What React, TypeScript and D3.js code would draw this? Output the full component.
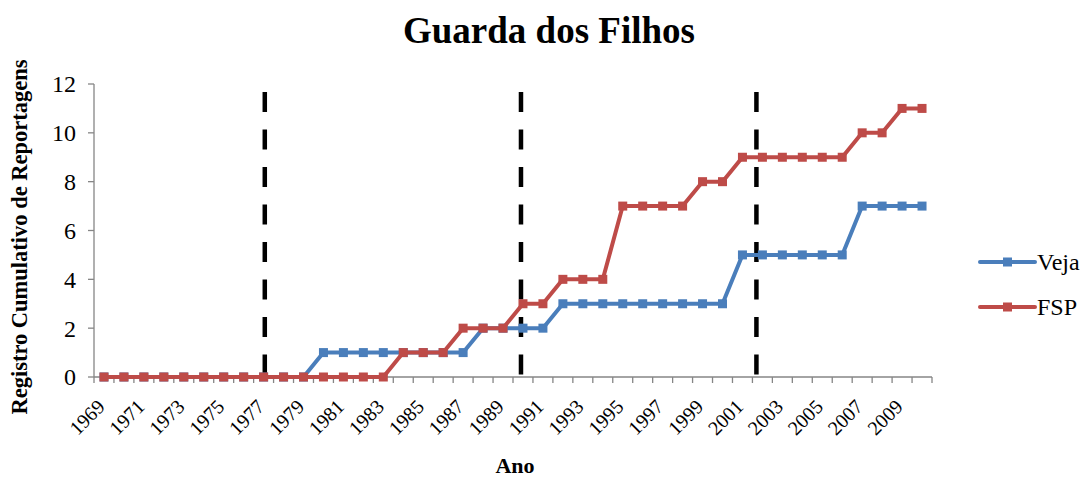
import React, { useEffect, useRef } from "react";
import * as d3 from "d3";

// anos 1969..2010
const anos: number[] = d3.range(1969, 2011);
const veja: number[] = [
  0, 0, 0, 0, 0, 0, 0, 0, 0, 0, 0, // 1969-1979
  1, 1, 1, 1, 1, 1, 1, 1, // 1980-1987
  2, 2, 2, 2, // 1988-1991
  3, 3, 3, 3, 3, 3, 3, 3, 3, // 1992-2000
  5, 5, 5, 5, 5, 5, // 2001-2006
  7, 7, 7, 7 // 2007-2010
];
const fsp: number[] = [
  0, 0, 0, 0, 0, 0, 0, 0, 0, 0, 0, 0, 0, 0, 0, // 1969-1983
  1, 1, 1, // 1984-1986
  2, 2, 2, // 1987-1989
  3, 3, // 1990-1991
  4, 4, 4, // 1992-1994
  7, 7, 7, 7, // 1995-1998
  8, 8, // 1999-2000
  9, 9, 9, 9, 9, 9, // 2001-2006
  10, 10, // 2007-2008
  11, 11 // 2009-2010
];
const yTicks: number[] = [0, 2, 4, 6, 8, 10, 12];
// posição aproximada das linhas tracejadas (em anos)
const marcos: number[] = [1977.06, 1989.9, 2001.7];

const series = [
  { name: "Veja", values: veja, color: "#4A7EBB" },
  { name: "FSP", values: fsp, color: "#BE4B48" }
];

const App = () => {
  const ref = useRef<SVGSVGElement>(null);

  useEffect(() => {
    const svg = d3.select(ref.current);
    svg.selectAll("*").remove();

    const left = 94, right = 932, top = 84, bottom = 377;
    const font = "Liberation Serif";

    const x = d3.scaleBand<number>().domain(anos).range([left, right]);
    const bw = x.bandwidth();
    const cx = (a: number) => (x(a) as number) + bw / 2;
    const xLin = d3.scaleLinear().domain([1969, 2010]).range([cx(1969), cx(2010)]);
    const y = d3.scaleLinear().domain([0, 12]).range([bottom, top]);

    const axisColor = "#868686";

    // eixo y
    svg.append("line")
      .attr("x1", left).attr("x2", left).attr("y1", top).attr("y2", bottom)
      .attr("stroke", axisColor).attr("stroke-width", 1.3);
    const yt = svg.append("g");
    yt.selectAll("line").data(yTicks).join("line")
      .attr("x1", left - 6).attr("x2", left)
      .attr("y1", d => y(d)).attr("y2", d => y(d))
      .attr("stroke", axisColor).attr("stroke-width", 1.3);
    yt.selectAll("text").data(yTicks).join("text")
      .attr("x", left - 18).attr("y", d => y(d))
      .attr("dy", "0.35em")
      .attr("text-anchor", "end")
      .attr("font-family", font).attr("font-size", 24)
      .text(d => d);

    // eixo x
    svg.append("line")
      .attr("x1", left).attr("x2", right).attr("y1", bottom).attr("y2", bottom)
      .attr("stroke", axisColor).attr("stroke-width", 1.3);
    const bounds = anos.map(a => x(a) as number).concat([right]);
    svg.append("g").selectAll("line").data(bounds).join("line")
      .attr("x1", d => d).attr("x2", d => d)
      .attr("y1", bottom).attr("y2", bottom + 6)
      .attr("stroke", axisColor).attr("stroke-width", 1.3);
    svg.append("g").selectAll("text").data(anos.filter((a, i) => i % 2 === 0)).join("text")
      .attr("transform", d => `translate(${cx(d) + 2},${bottom + 31}) rotate(-45)`)
      .attr("text-anchor", "end")
      .attr("font-family", font).attr("font-size", 20)
      .text(d => d);

    // linhas tracejadas
    svg.append("g").selectAll("line").data(marcos).join("line")
      .attr("x1", d => xLin(d)).attr("x2", d => xLin(d))
      .attr("y1", 92).attr("y2", bottom)
      .attr("stroke", "#000").attr("stroke-width", 4.5)
      .attr("stroke-dasharray", "20,17.5");

    // séries
    const line = d3.line<number>().x((d, i) => cx(anos[i])).y(d => y(d));
    series.forEach(s => {
      svg.append("path")
        .attr("d", line(s.values))
        .attr("fill", "none").attr("stroke", s.color)
        .attr("stroke-width", 4).attr("stroke-linejoin", "round");
      svg.append("g").selectAll("rect").data(s.values).join("rect")
        .attr("x", (d, i) => cx(anos[i]) - 4.5).attr("y", d => y(d) - 4.5)
        .attr("width", 9).attr("height", 9)
        .attr("fill", s.color);
    });

    // legenda
    const lg = svg.append("g");
    series.forEach((s, i) => {
      const ly = 262 + i * 45;
      lg.append("line")
        .attr("x1", 980).attr("x2", 1035).attr("y1", ly).attr("y2", ly)
        .attr("stroke", s.color).attr("stroke-width", 4).attr("stroke-linecap", "round");
      lg.append("rect")
        .attr("x", 1003).attr("y", ly - 4.5).attr("width", 9).attr("height", 9)
        .attr("fill", s.color);
      lg.append("text")
        .attr("x", 1037).attr("y", ly).attr("dy", "0.35em")
        .attr("font-family", font).attr("font-size", 24)
        .text(s.name);
    });

    // títulos
    svg.append("text")
      .attr("x", 549).attr("y", 43)
      .attr("text-anchor", "middle")
      .attr("font-family", font).attr("font-size", 37).attr("font-weight", "bold")
      .text("Guarda dos Filhos");
    svg.append("text")
      .attr("x", 515).attr("y", 473)
      .attr("text-anchor", "middle")
      .attr("font-family", font).attr("font-size", 22).attr("font-weight", "bold")
      .text("Ano");
    svg.append("text")
      .attr("transform", `translate(27,237) rotate(-90)`)
      .attr("text-anchor", "middle")
      .attr("font-family", font).attr("font-size", 22.5).attr("font-weight", "bold")
      .text("Registro Cumulativo de Reportagens");
  }, []);

  return (
    <svg ref={ref} width={1091} height={477}
      style={{ position: "absolute", left: 0, top: 0, background: "#fff" }} />
  );
};

export default App;
